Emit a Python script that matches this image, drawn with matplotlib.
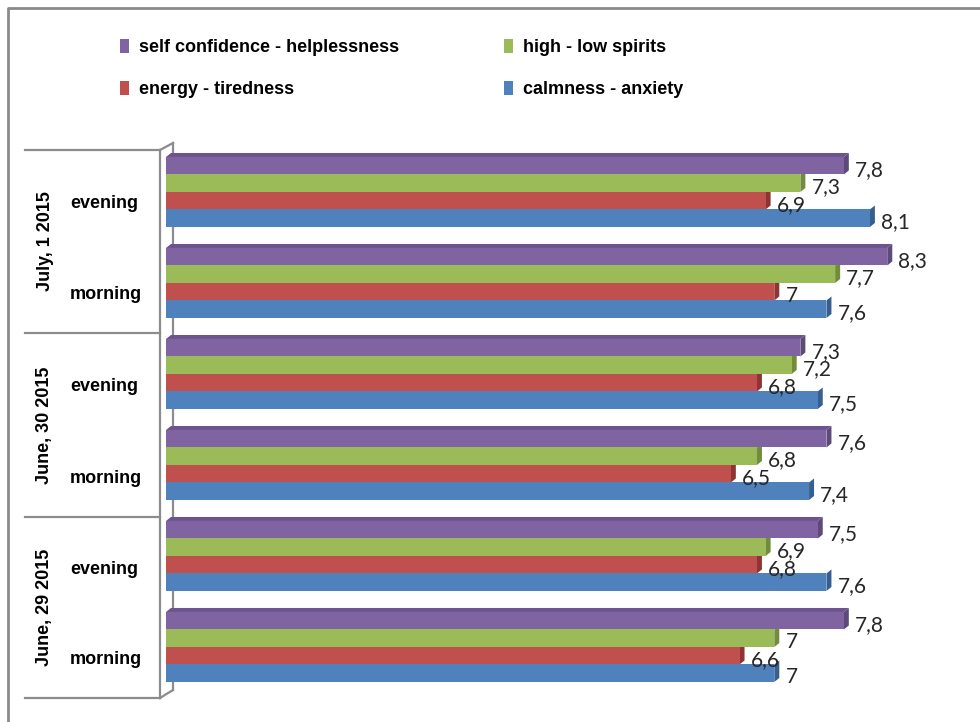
import matplotlib
matplotlib.use("Agg")
import matplotlib.pyplot as plt
from matplotlib.patches import Polygon, Patch
from matplotlib.lines import Line2D

# groups from top to bottom
dates = ["July, 1 2015", "June, 30 2015", "June, 29 2015"]
times = ["evening", "morning"]

series_names = ["self confidence - helplessness", "high - low spirits",
                "energy - tiredness", "calmness - anxiety"]
self_confidence = [7.8, 8.3, 7.3, 7.6, 7.5, 7.8]
high_low = [7.3, 7.7, 7.2, 6.8, 6.9, 7.0]
energy = [6.9, 7.0, 6.8, 6.5, 6.8, 6.6]
calmness = [8.1, 7.6, 7.5, 7.4, 7.6, 7.0]

face_colors = ["#8064A2", "#9BBB59", "#C0504D", "#4F81BD"]
side_colors = ["#5E4A7A", "#718C3A", "#8E3533", "#365F8F"]

W, H = 980, 722
fig = plt.figure(figsize=(W / 100, H / 100), dpi=100)
fig.patch.set_facecolor("white")


def fx(x):
    return x / W


def fy(y):
    return 1 - y / H


def fline(xs, ys, color="#8c8c8c", lw=1.6):
    # drawn below the axes so the bars sit in front of the wall lines
    fig.add_artist(Line2D([fx(x) for x in xs], [fy(y) for y in ys],
                          transform=fig.transFigure, color=color, lw=lw, zorder=-1))


# chart border
fline([8, 8, 980], [722, 8, 8], color="#8a8a8a", lw=2)

# bar area: 1 y-unit = one bar height (17.5 px), 86.9 px per value unit
ax_left, ax_top, ax_bottom = 166, 140, 700
ax = fig.add_axes([fx(ax_left), fy(ax_bottom), 1 - fx(ax_left), (ax_bottom - ax_top) / H])
ax.set_xlim(0, (W - ax_left) / 86.9)
ax.set_ylim((ax_bottom - ax_top) / 17.5, 0)
ax.axis("off")

group_pitch, first_top = 5.2, 0.97
dx, dy = 5 / 86.9, 4 / 17.5
all_series = [self_confidence, high_low, energy, calmness]

for j, (vals, fc, sc) in enumerate(zip(all_series, face_colors, side_colors)):
    tops = [first_top + k * group_pitch + j for k in range(len(vals))]
    ax.barh([t + 0.5 for t in tops], vals, height=1.0, color=fc, lw=0, zorder=3)
    for t, v in zip(tops, vals):
        # darker end cap of the 3D bar
        ax.add_patch(Polygon([(v, t), (v + dx, t - dy), (v + dx, t + 1 - dy), (v, t + 1)],
                             closed=True, facecolor=sc, lw=0, zorder=2))
        if j == 0:
            ax.add_patch(Polygon([(0, t), (dx, t - dy), (v + dx, t - dy), (v, t)],
                                 closed=True, facecolor="#6C5490", lw=0, zorder=2))
        ax.annotate(f"{v:g}".replace(".", ","), (v, t + 0.5), xytext=(8, -3),
                    textcoords="offset points", ha="left", va="center",
                    fontsize=15, family="Lato", color="#262626", zorder=5)

# category frame on the left
box_edges = [150, 333, 517, 698]
for y in box_edges:
    fline([25, 160], [y, y])
fline([160, 160], [150, 698])
fline([160, 173], [150, 143])
fline([160, 173], [698, 690])
fline([173, 173], [143, 690])

cat_font = dict(family="Liberation Sans", fontweight="bold", fontsize=13, color="black")
for i, date in enumerate(dates):
    y0, y1 = box_edges[i], box_edges[i + 1]
    fig.text(fx(45), fy((y0 + y1) / 2), date, rotation=90, ha="center", va="center", **cat_font)
    for t, frac in zip(times, [0.29, 0.79]):
        fig.text(fx(70), fy(y0 + frac * (y1 - y0)), t, ha="left", va="center", **cat_font)

# legend, filled column-wise: purple/red then green/blue
order = [0, 2, 1, 3]
handles = [Patch(facecolor=face_colors[i], edgecolor="none") for i in order]
labels = [series_names[i] for i in order]
fig.legend(handles, labels, ncol=2, loc="upper left", bbox_to_anchor=(fx(104), fy(23)),
           frameon=False, handlelength=0.5, handleheight=0.8, handletextpad=0.55,
           columnspacing=5.8, labelspacing=1.35,
           prop=dict(family="Liberation Sans", weight="bold", size=13))

fig.savefig("out.png", dpi=100)
